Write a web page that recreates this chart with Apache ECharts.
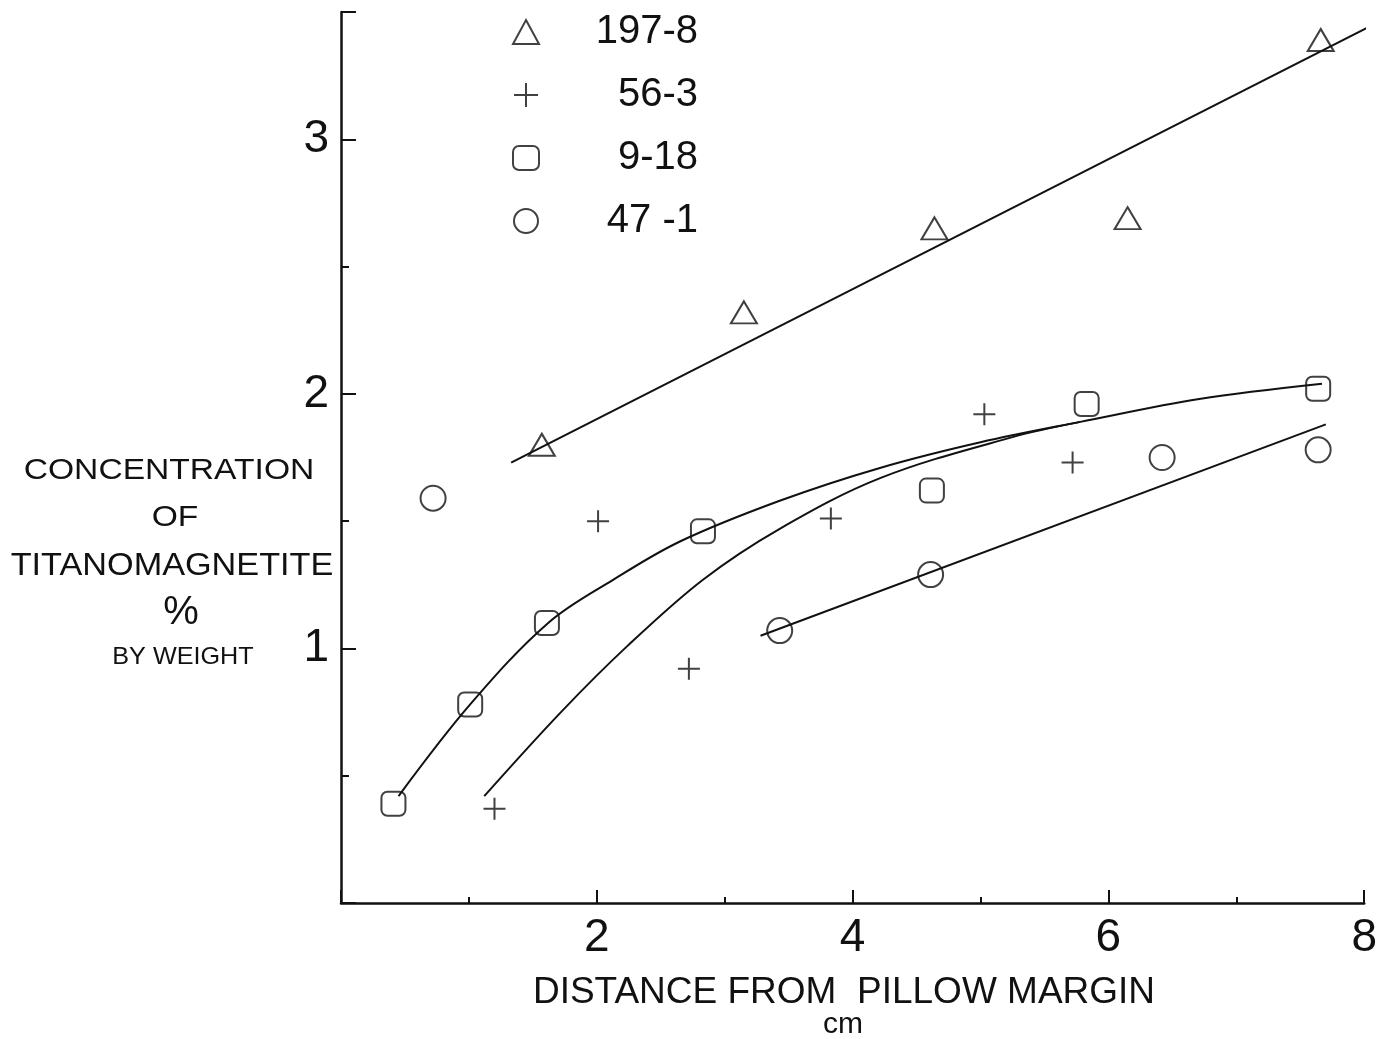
<!DOCTYPE html>
<html>
<head>
<meta charset="utf-8">
<title>Titanomagnetite concentration vs distance from pillow margin</title>
<script src="https://cdn.jsdelivr.net/npm/echarts@6/dist/echarts.min.js"></script>
<style>
  html, body { margin: 0; padding: 0; background: #fff; }
  #chart { width: 1380px; height: 1039px; }
</style>
</head>
<body>
<div id="chart"></div>
<script>
// Sample names (legend order)
const sampleNames = ['197-8', '56-3', '9-18', '47 -1'];

// Measured points: [distance cm, concentration % by weight]
const pts1978 = [[1.57, 1.80], [3.15, 2.32], [4.64, 2.65], [6.15, 2.69], [7.66, 3.39]];
const pts563  = [[1.20, 0.37], [2.01, 1.50], [2.72, 0.92], [3.83, 1.51], [5.03, 1.92], [5.72, 1.73]];
const pts918  = [[0.41, 0.39], [1.01, 0.78], [1.61, 1.10], [2.83, 1.46], [4.62, 1.62], [5.83, 1.96], [7.64, 2.02]];
const pts471  = [[0.72, 1.59], [3.43, 1.07], [4.61, 1.29], [6.42, 1.75], [7.64, 1.78]];

// Hand-fitted trend lines
const fit1978 = [[1.33, 1.73], [8.03, 3.44]];
const fit563  = [[1.12, 0.42], [1.72, 0.75], [2.24, 1.01], [2.83, 1.27], [3.43, 1.47], [4.22, 1.67], [5.25, 1.83], [5.78, 1.89]];
const fit918  = [[0.45, 0.42], [1.01, 0.78], [1.62, 1.10], [2.13, 1.27], [2.65, 1.42], [3.43, 1.58], [4.22, 1.71], [5.00, 1.81], [5.78, 1.89], [6.71, 1.98], [7.67, 2.04]];
const fit471  = [[3.28, 1.05], [7.70, 1.88]];

// Axis ranges and labels
const xRange = [0, 8];
const yRange = [0, 3.5];
const xTickLabels = ['2', '4', '6', '8'];
const yTickLabels = ['1', '2', '3'];

const yTitleLines = ['CONCENTRATION', 'OF', 'TITANOMAGNETITE', '%'];
const yTitleSub = 'BY WEIGHT';
const xTitle = 'DISTANCE FROM  PILLOW MARGIN';
const xUnit = 'cm';

const INK = '#111';
const FONT = 'Liberation Sans';
const plusPath = 'path://M0,10L20,10M10,0L10,20';

const chart = echarts.init(document.getElementById('chart'), null, { renderer: 'canvas' });

function markerSeries(name, data, symbol, size) {
  return {
    name: name,
    type: 'scatter',
    data: data,
    symbol: symbol,
    symbolSize: size,
    xAxisIndex: 0,
    yAxisIndex: 0,
    itemStyle: { color: 'rgba(0,0,0,0)', borderColor: INK, borderWidth: 2 },
    emphasis: { disabled: true },
    z: 5
  };
}

function fitSeries(data, smooth) {
  return {
    type: 'line',
    data: data,
    smooth: smooth,
    symbol: 'none',
    clip: false,
    xAxisIndex: 0,
    yAxisIndex: 0,
    lineStyle: { color: INK, width: 2 },
    silent: true,
    z: 3
  };
}

function titleText(text, x, y, size, sx) {
  return {
    type: 'text', x: x, y: y, scaleX: sx || 1,
    style: { text: text, fontFamily: FONT, fontSize: size, fill: INK, align: 'center', verticalAlign: 'middle' }
  };
}

const option = {
  backgroundColor: '#fff',
  animation: false,
  grid: { show: false, left: 341, right: 15, top: 12, bottom: 136 },
  legend: {
    orient: 'vertical',
    left: 507,
    top: 7,
    itemWidth: 26,
    itemHeight: 24,
    itemGap: 23,
    selectedMode: false,
    data: sampleNames,
    formatter: n => '{t|' + n + '}',
    textStyle: {
      rich: {
        t: { width: 154, align: 'right', fontFamily: FONT, fontSize: 40, lineHeight: 40, color: INK }
      }
    }
  },
  xAxis: [
    {
      type: 'value',
      min: xRange[0], max: xRange[1], interval: 2,
      axisLine: { lineStyle: { color: INK, width: 2.5 } },
      axisTick: { inside: true, length: 13, lineStyle: { color: INK, width: 2 } },
      splitLine: { show: false },
      axisLabel: {
        margin: 12,
        fontFamily: FONT,
        fontSize: 46,
        color: INK,
        formatter: v => xTickLabels.indexOf(String(v)) >= 0 ? String(v) : ''
      }
    },
    {
      type: 'value',
      position: 'bottom',
      min: xRange[0], max: xRange[1], interval: 1,
      axisLine: { show: false },
      axisTick: { inside: true, length: 6, lineStyle: { color: INK, width: 2 } },
      axisLabel: { show: false },
      splitLine: { show: false }
    }
  ],
  yAxis: [
    {
      type: 'value',
      min: yRange[0], max: yRange[1], interval: 1,
      axisLine: { show: true, lineStyle: { color: INK, width: 2.5 } },
      axisTick: { show: true, inside: true, length: 15, lineStyle: { color: INK, width: 2 } },
      splitLine: { show: false },
      axisLabel: {
        margin: 12,
        fontFamily: FONT,
        fontSize: 46,
        color: INK,
        formatter: v => yTickLabels.indexOf(String(v)) >= 0 ? String(v) : ''
      }
    },
    {
      type: 'value',
      position: 'left',
      min: yRange[0], max: yRange[1], interval: 0.5,
      axisLine: { show: false },
      axisTick: { show: true, inside: true, length: 8, lineStyle: { color: INK, width: 2 } },
      axisLabel: { show: false },
      splitLine: { show: false }
    }
  ],
  graphic: [
    titleText(yTitleLines[0], 169, 471, 30, 1.12),
    titleText(yTitleLines[1], 175, 518, 30, 1.12),
    titleText(yTitleLines[2], 172, 566, 32, 1.07),
    titleText(yTitleLines[3], 181, 613, 40),
    titleText(yTitleSub, 183, 657, 24, 1.05),
    titleText(xTitle, 844, 993, 37),
    titleText(xUnit, 843, 1025, 30)
  ],
  series: [
    markerSeries(sampleNames[0], pts1978, 'triangle', [26, 22]),
    markerSeries(sampleNames[1], pts563, plusPath, 22),
    markerSeries(sampleNames[2], pts918, 'roundRect', 24),
    markerSeries(sampleNames[3], pts471, 'circle', 25),
    fitSeries(fit1978, false),
    fitSeries(fit563, 0.35),
    fitSeries(fit918, 0.35),
    fitSeries(fit471, false)
  ]
};

chart.setOption(option);
</script>
</body>
</html>
